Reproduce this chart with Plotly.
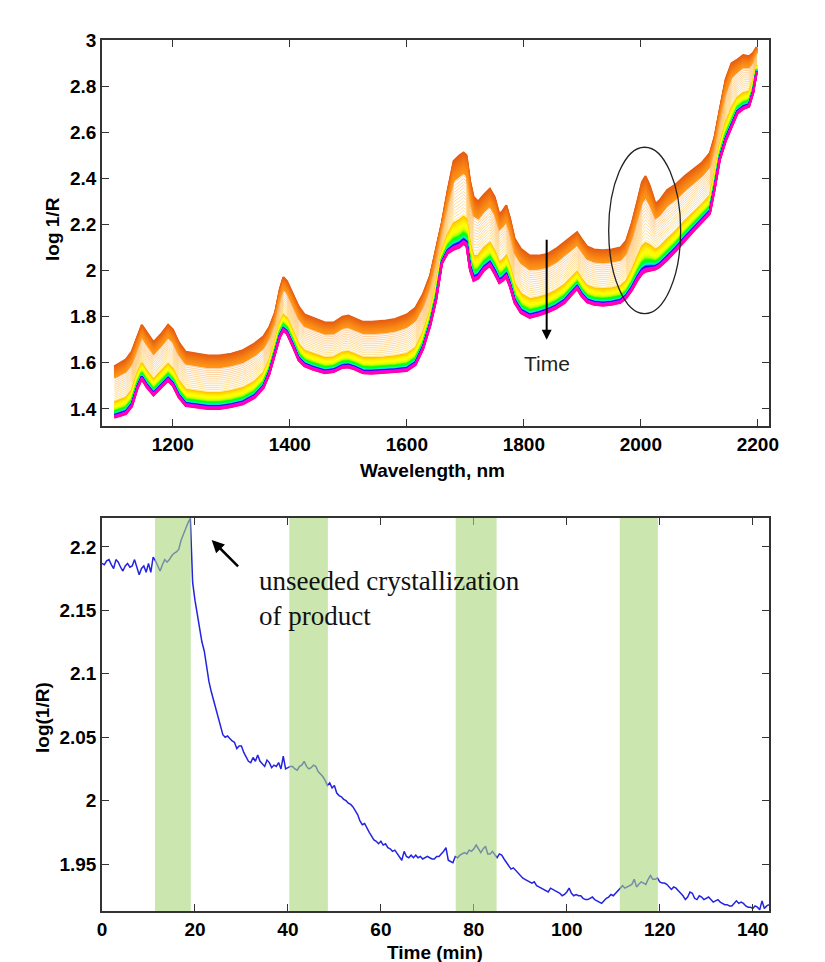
import colorsys
import plotly.graph_objects as go

# ---------------- data: NIR spectra (top panel) ----------------
WAVELENGTH = [
    1100, 1110, 1120, 1130, 1140, 1147, 1155, 1167, 1180, 1192,
    1200, 1210, 1222, 1240, 1260, 1280, 1300, 1320, 1340, 1355,
    1365, 1375, 1383, 1389, 1395, 1405, 1415, 1425, 1440, 1460,
    1475, 1490, 1500, 1510, 1525, 1540, 1560, 1580, 1600, 1615,
    1628, 1640, 1650, 1660, 1670, 1680, 1690, 1697, 1702, 1708,
    1714, 1722, 1732, 1742, 1750, 1758, 1764, 1770, 1776, 1784,
    1795, 1810, 1825, 1840, 1855, 1870, 1882, 1891, 1898, 1908,
    1920, 1935, 1950, 1965, 1975, 1985, 1995, 2002, 2008, 2015,
    2025, 2032, 2045, 2060, 2075, 2090, 2105, 2118, 2126, 2135,
    2145, 2155, 2165, 2175, 2185, 2192, 2198,
]
# first (earliest) spectrum
SPEC_EARLY = [
    1.585, 1.600, 1.615, 1.650, 1.720, 1.765, 1.735, 1.690, 1.725, 1.765,
    1.745, 1.690, 1.648, 1.640, 1.632, 1.632, 1.640, 1.655, 1.685, 1.715,
    1.755, 1.820, 1.920, 1.972, 1.955, 1.900, 1.845, 1.810, 1.795, 1.775,
    1.775, 1.800, 1.805, 1.795, 1.778, 1.778, 1.782, 1.790, 1.810, 1.840,
    1.900, 1.980, 2.090, 2.210, 2.350, 2.475, 2.500, 2.512, 2.500, 2.390,
    2.320, 2.300, 2.330, 2.355, 2.320, 2.245, 2.260, 2.283, 2.230, 2.140,
    2.095, 2.065, 2.065, 2.072, 2.095, 2.125, 2.150, 2.167, 2.140, 2.105,
    2.092, 2.088, 2.092, 2.100, 2.130, 2.210, 2.310, 2.385, 2.410, 2.370,
    2.290, 2.305, 2.350, 2.375, 2.410, 2.440, 2.470, 2.510, 2.580, 2.700,
    2.830, 2.900, 2.915, 2.935, 2.930, 2.945, 2.970,
]
# last (latest) spectrum
SPEC_LATE = [
    1.362, 1.370, 1.378, 1.410, 1.490, 1.528, 1.495, 1.458, 1.490, 1.522,
    1.500, 1.450, 1.413, 1.408, 1.400, 1.400, 1.408, 1.420, 1.448, 1.490,
    1.550, 1.640, 1.710, 1.738, 1.725, 1.670, 1.610, 1.585, 1.570, 1.555,
    1.560, 1.578, 1.580, 1.572, 1.555, 1.553, 1.555, 1.560, 1.565, 1.590,
    1.660, 1.760, 1.870, 2.030, 2.075, 2.090, 2.100, 2.115, 2.105, 2.000,
    1.955, 1.965, 2.000, 2.020, 1.985, 1.945, 1.955, 1.970, 1.930, 1.860,
    1.815, 1.795, 1.805, 1.818, 1.835, 1.860, 1.895, 1.920, 1.890, 1.862,
    1.852, 1.848, 1.852, 1.860, 1.880, 1.915, 1.960, 1.985, 1.995, 2.000,
    2.005, 2.015, 2.045, 2.085, 2.130, 2.170, 2.210, 2.246, 2.350, 2.480,
    2.560, 2.620, 2.680, 2.700, 2.710, 2.770, 2.860,
]
# fraction of the early->late change reached by each recorded spectrum
LEVELS_ORANGE = [0.0, 0.012, 0.025, 0.037, 0.05, 0.062, 0.075, 0.087, 0.10,
                 0.112, 0.125, 0.137, 0.15, 0.162, 0.175, 0.19, 0.205, 0.22]
LEVELS_PEACH = [0.25, 0.285, 0.32, 0.355, 0.39, 0.425, 0.46, 0.495, 0.53,
                0.565, 0.60, 0.635, 0.67]
LEVELS_LATE = [0.70, 0.72, 0.74, 0.76, 0.78, 0.80, 0.815, 0.83, 0.845, 0.86,
               0.87, 0.88, 0.89, 0.90, 0.91, 0.92, 0.93, 0.935, 0.94, 0.945,
               0.95, 0.955, 0.96, 0.965, 0.97, 0.975, 0.98, 0.987, 0.994, 1.0]
HUES_LATE = [46, 50, 54, 57, 59, 61, 63, 67, 75, 85, 100, 115, 125, 135, 140,
             150, 170, 185, 200, 220, 235, 245, 260, 275, 290, 300, 310, 315, 318, 320]

# ---------------- data: time trend (bottom panel) ----------------
TIME_STEP_MIN = 0.5
LOG_R = [
    2.187, 2.186, 2.189, 2.190, 2.186, 2.183, 2.190, 2.188, 2.184, 2.181,
    2.185, 2.187, 2.184, 2.185, 2.190, 2.184, 2.178, 2.183, 2.185, 2.180,
    2.187, 2.180, 2.192, 2.189, 2.185, 2.181, 2.186, 2.190, 2.188, 2.190,
    2.193, 2.195, 2.196, 2.198, 2.205, 2.210, 2.215, 2.219, 2.2225, 2.172,
    2.158, 2.146, 2.137, 2.125, 2.118, 2.104, 2.094, 2.086, 2.079, 2.072,
    2.066, 2.060, 2.052, 2.050, 2.051, 2.049, 2.047, 2.046, 2.041, 2.043,
    2.043, 2.038, 2.035, 2.031, 2.030, 2.034, 2.031, 2.036, 2.031, 2.029,
    2.027, 2.032, 2.030, 2.026, 2.028, 2.027, 2.030, 2.025, 2.035, 2.025,
    2.026, 2.027, 2.027, 2.025, 2.024, 2.027, 2.028, 2.031, 2.027, 2.025,
    2.026, 2.028, 2.027, 2.023, 2.021, 2.019, 2.016, 2.012, 2.014, 2.010,
    2.012, 2.006, 2.004, 2.003, 2.001, 2.000, 1.998, 1.997, 1.995, 1.992,
    1.989, 1.984, 1.981, 1.982, 1.978, 1.975, 1.972, 1.969, 1.968, 1.966,
    1.968, 1.965, 1.966, 1.963, 1.962, 1.960, 1.961, 1.958, 1.956, 1.953,
    1.960, 1.956, 1.955, 1.957, 1.955, 1.957, 1.955, 1.956, 1.954, 1.955,
    1.956, 1.955, 1.954, 1.954, 1.956, 1.956, 1.958, 1.960, 1.963, 1.953,
    1.952, 1.951, 1.956, 1.955, 1.957, 1.958, 1.959, 1.958, 1.961, 1.960,
    1.962, 1.965, 1.962, 1.959, 1.962, 1.964, 1.958, 1.958, 1.960, 1.957,
    1.955, 1.958, 1.957, 1.954, 1.951, 1.948, 1.946, 1.947, 1.945, 1.943,
    1.941, 1.939, 1.938, 1.937, 1.936, 1.935, 1.936, 1.933, 1.932, 1.931,
    1.930, 1.929, 1.928, 1.931, 1.930, 1.929, 1.928, 1.927, 1.925, 1.926,
    1.928, 1.931, 1.927, 1.925, 1.926, 1.925, 1.925, 1.923, 1.922, 1.922,
    1.923, 1.924, 1.922, 1.921, 1.920, 1.919, 1.921, 1.923, 1.924, 1.926,
    1.925, 1.927, 1.929, 1.931, 1.933, 1.931, 1.932, 1.933, 1.934, 1.938,
    1.932, 1.934, 1.936, 1.935, 1.934, 1.938, 1.941, 1.938, 1.938, 1.939,
    1.936, 1.935, 1.935, 1.934, 1.932, 1.930, 1.932, 1.931, 1.929, 1.927,
    1.925, 1.922, 1.924, 1.928, 1.927, 1.923, 1.922, 1.925, 1.924, 1.922,
    1.923, 1.924, 1.922, 1.920, 1.921, 1.922, 1.920, 1.919, 1.918, 1.918,
    1.917, 1.917, 1.919, 1.921, 1.919, 1.920, 1.919, 1.917, 1.916, 1.916,
    1.915, 1.917, 1.916, 1.914, 1.921, 1.915, 1.917, 1.918,
]
TIME = [i * TIME_STEP_MIN for i in range(len(LOG_R))]
SEED_BANDS = [(11.4, 19.1), (40.3, 48.6), (76.1, 84.9), (111.4, 119.6)]

# ---------------- figure ----------------
fig = go.Figure()


def spectrum(level):
    return [e + level * (l - e) for e, l in zip(SPEC_EARLY, SPEC_LATE)]


def mix(c0, c1, f):
    return tuple(int(round(a + (b - a) * f)) for a, b in zip(c0, c1))


n_or = len(LEVELS_ORANGE)
for i, lv in enumerate(LEVELS_ORANGE):
    c = mix((228, 92, 18), (255, 148, 22), i / (n_or - 1))
    fig.add_trace(go.Scatter(x=WAVELENGTH, y=spectrum(lv), mode="lines",
                             line=dict(color="rgb(%d,%d,%d)" % c, width=2),
                             xaxis="x", yaxis="y", showlegend=False, hoverinfo="skip"))
n_pe = len(LEVELS_PEACH)
for i, lv in enumerate(LEVELS_PEACH):
    c = mix((255, 180, 110), (255, 215, 90), i / (n_pe - 1))
    fig.add_trace(go.Scatter(x=WAVELENGTH, y=spectrum(lv), mode="lines",
                             line=dict(color="rgba(%d,%d,%d,0.8)" % c, width=0.8),
                             xaxis="x", yaxis="y", showlegend=False, hoverinfo="skip"))
for lv, h in zip(LEVELS_LATE, HUES_LATE):
    r, g, b = colorsys.hsv_to_rgb(h / 360.0, 1.0, 1.0 if h < 200 or h > 260 else 0.95)
    fig.add_trace(go.Scatter(x=WAVELENGTH, y=spectrum(lv), mode="lines",
                             line=dict(color="rgb(%d,%d,%d)" % (r * 255, g * 255, b * 255), width=2),
                             xaxis="x", yaxis="y", showlegend=False, hoverinfo="skip"))

fig.add_trace(go.Scatter(x=TIME, y=LOG_R, mode="lines",
                         line=dict(color="rgb(35,35,225)", width=1.5),
                         xaxis="x2", yaxis="y2", showlegend=False))

shapes = []
for a, b in SEED_BANDS:
    shapes.append(dict(type="rect", xref="x2", yref="y2 domain", x0=a, x1=b, y0=0, y1=1,
                       fillcolor="rgb(170,213,123)", opacity=0.6, line=dict(width=0),
                       layer="above"))
shapes.append(dict(type="circle", xref="x", yref="y", x0=1945, x1=2068, y0=1.813, y1=2.535,
                   line=dict(color="#222", width=1.3)))

tick_font = dict(family="Liberation Sans", size=19, color="black", weight="bold")
title_font = dict(family="Liberation Sans", size=19, color="black", weight="bold")
ax_common = dict(showline=True, linecolor="#333", linewidth=1.5, mirror="ticks",
                 ticks="inside", ticklen=7, tickwidth=1.3, tickcolor="#333",
                 showgrid=False, zeroline=False, tickfont=tick_font)

top_y_ticks = [1.4, 1.6, 1.8, 2.0, 2.2, 2.4, 2.6, 2.8, 3.0]
bot_y_ticks = [1.95, 2.0, 2.05, 2.1, 2.15, 2.2]

fig.update_layout(
    width=825, height=962, paper_bgcolor="white", plot_bgcolor="white",
    margin=dict(l=102, r=56, t=40, b=51),
    xaxis=dict(domain=[0, 1], anchor="y", range=[1079, 2219],
               tickvals=[1200, 1400, 1600, 1800, 2000, 2200], **ax_common),
    yaxis=dict(domain=[0.5568, 1], anchor="x", range=[1.326, 3.0],
               tickvals=top_y_ticks, ticktext=["%g" % v for v in top_y_ticks], **ax_common),
    xaxis2=dict(domain=[0, 1], anchor="y2", range=[0, 143.5],
                tickvals=[0, 20, 40, 60, 80, 100, 120, 140], **ax_common),
    yaxis2=dict(domain=[0, 0.4512], anchor="x2", range=[1.913, 2.2228],
                tickvals=bot_y_ticks, ticktext=["%g" % v for v in bot_y_ticks], **ax_common),
    shapes=shapes,
    annotations=[
        dict(text="log 1/R", xref="paper", yref="paper", x=-0.075, y=0.783,
             textangle=-90, showarrow=False, font=title_font, xanchor="center", yanchor="middle"),
        dict(text="Wavelength, nm", xref="paper", yref="paper", x=0.496, y=0.5063,
             showarrow=False, font=title_font, xanchor="center", yanchor="middle"),
        dict(text="log(1/R)", xref="paper", yref="paper", x=-0.09, y=0.2227,
             textangle=-90, showarrow=False, font=title_font, xanchor="center", yanchor="middle"),
        dict(text="Time (min)", xref="paper", yref="paper", x=0.499, y=-0.0482,
             showarrow=False, font=title_font, xanchor="center", yanchor="middle"),
        dict(text="", xref="x", yref="y", x=1839, y=1.70, axref="x", ayref="y",
             ax=1839, ay=2.14, showarrow=True, arrowhead=2, arrowsize=1, arrowwidth=2,
             arrowcolor="black"),
        dict(text="Time", xref="x", yref="y", x=1839, y=1.596, showarrow=False,
             font=dict(family="Liberation Sans", size=21, color="#222"),
             xanchor="center", yanchor="middle"),
        dict(text="", xref="x2", yref="y2", x=23.6, y=2.2055, axref="x2", ayref="y2",
             ax=29.6, ay=2.1835, showarrow=True, arrowhead=2, arrowsize=1, arrowwidth=2.5,
             arrowcolor="black"),
        dict(text="unseeded crystallization<br>of product", xref="x2", yref="y2",
             x=33.4, y=2.1594, showarrow=False, align="left", xanchor="left", yanchor="middle",
             font=dict(family="Liberation Serif", size=27, color="#111")),
    ],
)

fig.write_html("out.html")
